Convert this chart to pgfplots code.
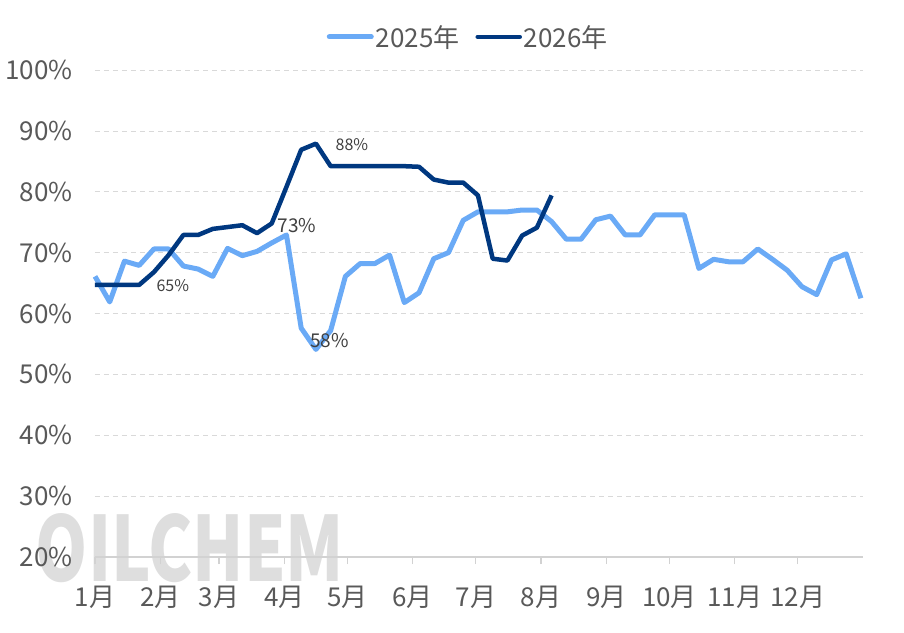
\documentclass[border=0pt]{standalone}
\usepackage{pgfplots}
\pgfplotsset{compat=1.18}
\usepackage{fontspec}
\setmainfont{Noto Sans CJK SC}
\definecolor{lb}{RGB}{106,170,246}
\definecolor{db}{RGB}{0,56,128}
\definecolor{tk}{RGB}{89,89,89}
\definecolor{lbl}{RGB}{64,64,64}
\pgfplotstableread{
x y
0 66.1
7 61.9
14 68.6
21 67.9
28 70.6
35 70.6
42 67.8
49 67.3
56 66.1
63 70.7
70 69.5
77 70.2
84 71.6
91 72.9
98 57.6
105 54.1
112 57.2
119 66.1
126 68.2
133 68.2
140 69.6
147 61.8
154 63.4
161 69.0
168 70.0
175 75.3
182 76.7
189 76.7
196 76.7
203 77.0
210 77.0
217 75.1
224 72.2
231 72.2
238 75.4
245 76.0
252 72.9
259 72.9
266 76.2
273 76.2
280 76.2
287 67.4
294 68.9
301 68.5
308 68.5
315 70.6
322 68.9
329 67.1
336 64.4
343 63.1
350 68.8
357 69.8
364 62.5
}\tA
\pgfplotstableread{
x y
0 64.7
7 64.7
14 64.7
21 64.7
28 66.8
35 69.6
42 72.9
49 72.9
56 73.9
63 74.2
70 74.5
77 73.2
84 74.8
91 80.8
98 86.9
105 87.9
112 84.2
119 84.2
126 84.2
133 84.2
140 84.2
147 84.2
154 84.1
161 82.0
168 81.5
175 81.5
182 79.4
189 69.0
196 68.7
203 72.8
210 74.1
217 79.4
}\tB
\begin{document}
\begin{tikzpicture}
\path[use as bounding box] (-95pt,-75pt) rectangle (809pt,557pt);
\shade[top color=black!17, bottom color=black!3] (0,0) rectangle (0,0);
\node[text=black!13, inner sep=0pt] at (95pt,9pt) {\resizebox{308pt}{68pt}{\bfseries OILCHEM}};
\begin{axis}[
  at={(0pt,0pt)}, anchor=south west,
  width=768pt, height=487pt, scale only axis,
  xmin=0, xmax=365, ymin=20, ymax=100,
  xtick={0,31,59,90,120,151,181,212,243,273,304,334},
  xticklabels={1月,2月,3月,4月,5月,6月,7月,8月,9月,10月,11月,12月},
  ytick={20,30,...,100},
  yticklabel={\pgfmathprintnumber{\tick}\%},
  /pgf/number format/assume math mode=true,
  ymajorgrids, grid style={dash pattern=on 5pt off 4pt, gray!30, line width=0.7pt},
  axis x line*=bottom, axis y line*=left,
  y axis line style={draw=none},
  x axis line style={-, draw=gray!35, line width=1.3pt},
  ytick style={draw=none},
  xtick style={draw=gray!35, line width=1.3pt},
  tick align=outside, major tick length=7pt,
  ticklabel style={font=\fontsize{26}{30}\selectfont, text=tk},
  xticklabel style={yshift=-19pt},
  yticklabel style={xshift=-12pt},
  clip=false,
  legend style={at={(0.486,1.068)}, anchor=center, draw=none, fill=none,
    legend columns=2, font=\fontsize{26}{30}\selectfont, text=tk,
    /tikz/every even column/.append style={column sep=14pt}},
  legend image code/.code={\draw[#1, line cap=round] (0pt,0pt) -- (42pt,0pt);},
]
\addplot[lb, line width=5pt, line join=round] table[x=x,y=y] {\tA};
\addlegendentry{2025年}
\addplot[db, line width=4.5pt, line join=round] table[x=x,y=y] {\tB};
\addlegendentry{2026年}
\node[text=lbl, font=\fontsize{16}{18}\selectfont] at (axis cs:37,64.5) {65\%};
\node[text=lbl, font=\fontsize{19}{21}\selectfont] at (axis cs:96,74.5) {73\%};
\node[text=lbl, font=\fontsize{19}{21}\selectfont] at (axis cs:111.5,55.6) {58\%};
\node[text=lbl, font=\fontsize{16}{18}\selectfont] at (axis cs:122.1,87.8) {88\%};
\end{axis}
\end{tikzpicture}
\end{document}
